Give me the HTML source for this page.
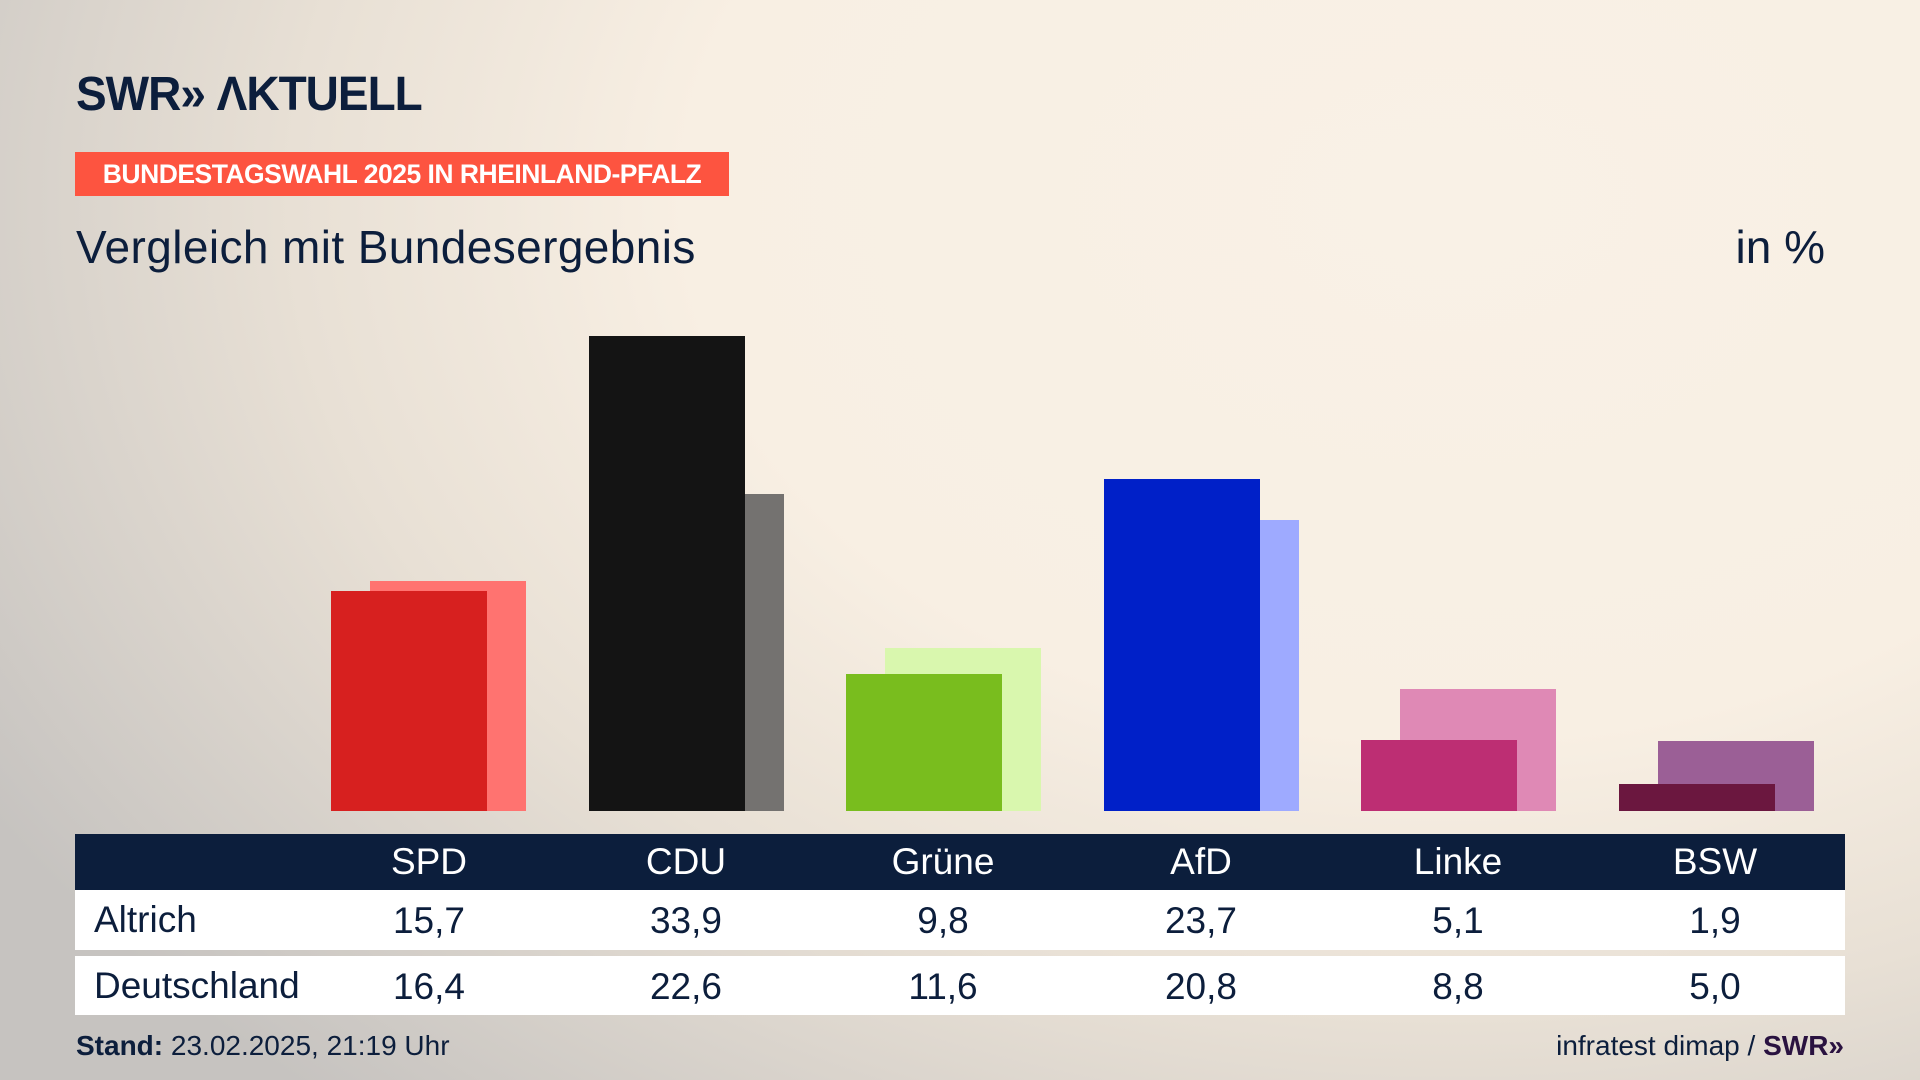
<!DOCTYPE html>
<html><head><meta charset="utf-8"><style>
html,body{margin:0;padding:0}
body{width:1920px;height:1080px;overflow:hidden;position:relative;font-family:"Liberation Sans",sans-serif;color:#0c1e3c;
background:radial-gradient(ellipse 1700px 1200px at 1450px 200px,#f9f1e6 0%,#f8efe3 45%,#e8e0d5 68%,#c6c3c0 100%);}
.abs{position:absolute}
.logo{left:76px;top:66px;font-weight:bold;font-size:46px;letter-spacing:-1px;color:#0c1e3c;transform:scaleY(1.05)}
.banner{left:75px;top:152px;width:654px;height:44px;background:#fd5440;color:#fff;font-weight:bold;font-size:26.5px;line-height:44px;text-align:center;letter-spacing:-0.5px}
.title{left:76px;top:220px;font-size:46px;letter-spacing:0.4px}
.unit{right:95px;top:220px;font-size:46px}
.hdr{left:75px;top:834px;width:1770px;height:56px;background:#0c1e3c}
.row{left:75px;width:1770px;background:#fff}
.cell{position:absolute;width:200px;margin-left:-100px;text-align:center;font-size:37px}
.lbl{position:absolute;left:19px;font-size:37px}
.foot{font-size:28px;top:1030px}
</style></head><body>
<div class="abs logo">SWR» ΛKTUELL</div>
<div class="abs banner">BUNDESTAGSWAHL 2025 IN RHEINLAND-PFALZ</div>
<div class="abs title">Vergleich mit Bundesergebnis</div>
<div class="abs unit">in %</div>
<svg class="abs" style="left:0;top:0" width="1920" height="1080">
<rect x="370" y="581" width="156" height="230" fill="#ff7370"/><rect x="331" y="591" width="156" height="220" fill="#d7201f"/>
<rect x="628" y="494" width="156" height="317" fill="#747270"/><rect x="589" y="336" width="156" height="475" fill="#141414"/>
<rect x="885" y="648" width="156" height="163" fill="#d9f7ae"/><rect x="846" y="674" width="156" height="137" fill="#79bd1e"/>
<rect x="1143" y="520" width="156" height="291" fill="#9eaaff"/><rect x="1104" y="479" width="156" height="332" fill="#0020c8"/>
<rect x="1400" y="689" width="156" height="122" fill="#df89b5"/><rect x="1361" y="740" width="156" height="71" fill="#bd2e73"/>
<rect x="1658" y="741" width="156" height="70" fill="#9b5f96"/><rect x="1619" y="784" width="156" height="27" fill="#6b173f"/>
</svg>
<div class="abs hdr" style="color:#fff">
<div class="cell" style="left:354px;top:7px">SPD</div><div class="cell" style="left:611px;top:7px">CDU</div><div class="cell" style="left:868px;top:7px">Grüne</div><div class="cell" style="left:1126px;top:7px">AfD</div><div class="cell" style="left:1383px;top:7px">Linke</div><div class="cell" style="left:1640px;top:7px">BSW</div>
</div>
<div class="abs row" style="top:890px;height:60px">
<div class="lbl" style="top:9px">Altrich</div>
<div class="cell" style="left:354px;top:10px">15,7</div><div class="cell" style="left:611px;top:10px">33,9</div><div class="cell" style="left:868px;top:10px">9,8</div><div class="cell" style="left:1126px;top:10px">23,7</div><div class="cell" style="left:1383px;top:10px">5,1</div><div class="cell" style="left:1640px;top:10px">1,9</div>
</div>
<div class="abs row" style="top:956px;height:59px">
<div class="lbl" style="top:9px">Deutschland</div>
<div class="cell" style="left:354px;top:10px">16,4</div><div class="cell" style="left:611px;top:10px">22,6</div><div class="cell" style="left:868px;top:10px">11,6</div><div class="cell" style="left:1126px;top:10px">20,8</div><div class="cell" style="left:1383px;top:10px">8,8</div><div class="cell" style="left:1640px;top:10px">5,0</div>
</div>
<div class="abs foot" style="left:76px"><b>Stand:</b> 23.02.2025, 21:19 Uhr</div>
<div class="abs foot" style="right:76px">infratest dimap / <b style="color:#2a1240">SWR»</b></div>
</body></html>
